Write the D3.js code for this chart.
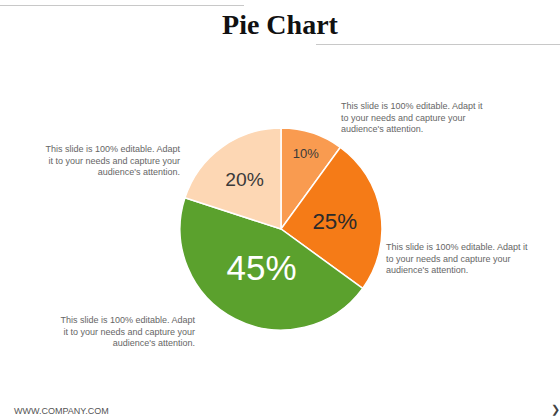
<!DOCTYPE html>
<html>
<head>
<meta charset="utf-8">
<script src="https://cdn.jsdelivr.net/npm/d3@7"></script>
<style>
  body { margin: 0; background: #fff; }
  svg { display: block; }
</style>
</head>
<body>
<div id="chart"></div>
<script>
// slice data, clockwise from 12 o'clock
const shares = [10, 25, 45, 20];
const shareLabels = ["10%", "25%", "45%", "20%"];
const sliceColors = ["#F99B50", "#F57B17", "#5BA12D", "#FDD7B4"];
const labelColors = ["#3a3a3a", "#2b2b2b", "#ffffff", "#3a3a3a"];

const noteText = [
    "This slide is 100% editable. Adapt it",
    "to your needs and capture your",
    "audience's attention."
];
const noteTextLeft = [
    "This slide is 100% editable. Adapt",
    "it to your needs and capture your",
    "audience's attention."
];

const width = 560, height = 420;
const cx = 281, cy = 229, radius = 101;

const svg = d3.select("#chart")
    .append("svg")
    .attr("width", width)
    .attr("height", height);

// header rules + title
svg.append("line")
    .attr("x1", 0).attr("x2", 244).attr("y1", 5.5).attr("y2", 5.5)
    .attr("stroke", "#c8c8c8").attr("stroke-width", 1);
svg.append("line")
    .attr("x1", 316).attr("x2", 560).attr("y1", 44.5).attr("y2", 44.5)
    .attr("stroke", "#c8c8c8").attr("stroke-width", 1);

svg.append("text")
    .attr("x", 280)
    .attr("y", 33.5)
    .attr("text-anchor", "middle")
    .attr("font-family", "Liberation Serif, serif")
    .attr("font-weight", "bold")
    .attr("font-size", 28)
    .attr("fill", "#111")
    .text("Pie Chart");

// pie
let pie = d3.pie().sort(null).value(d => d);
let arcs = pie(shares);
let arc = d3.arc().innerRadius(0).outerRadius(radius);

// label placement/size depend on slice size
let labelRadius = d3.scaleLinear().domain([10, 20, 25, 45]).range([80, 62, 54.5, 43]);
let labelSize = d3.scaleLinear().domain([10, 45]).range([13, 35]);

let g = svg.append("g")
    .attr("transform", "translate(" + cx + "," + cy + ")");

g.selectAll("path")
    .data(arcs)
    .enter()
    .append("path")
    .attr("d", arc)
    .attr("fill", (d, i) => sliceColors[i])
    .attr("stroke", "#fff")
    .attr("stroke-width", 1.5);

g.selectAll("text.pct")
    .data(arcs)
    .enter()
    .append("text")
    .attr("class", "pct")
    .attr("transform", function (d) {
        let r = labelRadius(d.data);
        let c = d3.arc().innerRadius(r).outerRadius(r).centroid(d);
        return "translate(" + c[0] + "," + c[1] + ")";
    })
    .attr("dy", "0.36em")
    .attr("text-anchor", "middle")
    .attr("font-family", "Liberation Sans, Arial, sans-serif")
    .attr("font-size", d => labelSize(d.data))
    .attr("fill", (d, i) => labelColors[i])
    .text((d, i) => shareLabels[i]);

// callout notes
function note(lines, x, y, anchor) {
    let t = svg.append("text")
        .attr("font-family", "Liberation Sans, Arial, sans-serif")
        .attr("font-size", 9)
        .attr("fill", "#666")
        .attr("text-anchor", anchor);
    lines.forEach((s, i) => {
        t.append("tspan")
            .attr("x", x)
            .attr("y", y + i * 11.5)
            .text(s);
    });
}
note(noteText, 341, 109, "start");
note(noteTextLeft, 180, 152, "end");
note(noteText, 386, 250, "start");
note(noteTextLeft, 195, 323, "end");

// footer
svg.append("text")
    .attr("x", 14)
    .attr("y", 414)
    .attr("font-family", "Liberation Sans, Arial, sans-serif")
    .attr("font-size", 9)
    .attr("fill", "#555")
    .text("WWW.COMPANY.COM");
svg.append("text")
    .attr("x", 551)
    .attr("y", 413)
    .attr("font-family", "DejaVu Sans, sans-serif")
    .attr("font-size", 11)
    .attr("fill", "#444")
    .text("\u276F");
</script>
</body>
</html>
